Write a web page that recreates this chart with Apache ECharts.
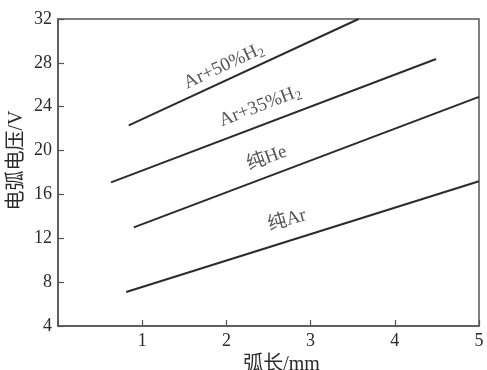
<!DOCTYPE html>
<html>
<head>
<meta charset="utf-8">
<script src="https://cdn.jsdelivr.net/npm/echarts@6/dist/echarts.min.js"></script>
<style>
  html, body { margin: 0; padding: 0; background: #fff; }
  #chart { width: 487px; height: 370px; }
</style>
</head>
<body>
<div id="chart"></div>
<script>
// Arc voltage (V) versus arc length (mm) for four shielding gases
const xTicks = [0, 1, 2, 3, 4, 5];
const yTicks = [4, 8, 12, 16, 20, 24, 28, 32];

const ar50h2 = [[0.84, 22.3], [3.57, 32.0]];
const ar35h2 = [[0.63, 17.1], [4.49, 28.35]];
const pureHe = [[0.90, 13.0], [5.0, 24.9]];
const pureAr = [[0.81, 7.1], [5.0, 17.2]];

// label anchor [x, y] and text angle for each curve
const seriesNames = ['Ar+50%H2', 'Ar+35%H2', '纯He', '纯Ar'];
const seriesData = [ar50h2, ar35h2, pureHe, pureAr];
const labelTexts = ['Ar+50%H{sub|2}', 'Ar+35%H{sub|2}', '纯He', '纯Ar'];
const labelAt = [[1.97, 27.7], [2.40, 24.05], [2.48, 19.3], [2.72, 13.64]];
const labelAngle = [25, 21, 20, 16];

const serif = '"Liberation Serif", "Times New Roman", "Noto Sans CJK SC", serif';
const ink = '#2b2b2b';

const chart = echarts.init(document.getElementById('chart'), null, { renderer: 'canvas' });

const series = seriesData.map((d, i) => ({
  name: seriesNames[i],
  type: 'line',
  data: d,
  symbol: 'none',
  silent: true,
  lineStyle: { color: ink, width: 2 }
}));

// curve names, placed in data coordinates beside each line
series.push({
  name: 'labels',
  type: 'scatter',
  silent: true,
  symbolSize: 1,
  itemStyle: { color: 'rgba(0,0,0,0)' },
  data: labelAt.map((p, i) => ({
    value: p,
    label: {
      show: true,
      position: 'inside',
      formatter: labelTexts[i],
      rotate: labelAngle[i],
      color: ink,
      fontFamily: serif,
      fontSize: 19,
      rich: {
        sub: { fontSize: 13, fontFamily: serif, color: ink, padding: [9, 0, 0, 0] }
      }
    }
  }))
});

chart.setOption({
  animation: false,
  backgroundColor: '#fff',
  grid: {
    left: 58, right: 8, top: 19, bottom: 44,
    outerBoundsMode: 'none',
    containLabel: false,
    show: true, borderColor: '#555', borderWidth: 1.5, backgroundColor: 'transparent'
  },
  xAxis: {
    type: 'value',
    min: xTicks[0],
    max: xTicks[xTicks.length - 1],
    interval: 1,
    name: '弧长/mm',
    nameLocation: 'middle',
    nameGap: 29,
    nameTextStyle: { color: ink, fontSize: 20, fontFamily: serif, padding: [0, 0, 0, 26] },
    axisLine: { show: true, lineStyle: { color: '#555', width: 1.5 } },
    axisTick: { show: true, inside: true, length: 6, lineStyle: { color: '#555', width: 1.2 } },
    axisLabel: {
      color: ink, fontSize: 18, fontFamily: serif, margin: 6,
      formatter: v => (v === 0 ? '' : String(v))
    },
    splitLine: { show: false }
  },
  yAxis: {
    type: 'value',
    min: yTicks[0],
    max: yTicks[yTicks.length - 1],
    interval: 4,
    name: '电弧电压/V',
    nameLocation: 'middle',
    nameRotate: 90,
    nameGap: 31,
    nameMoveOverlap: false,
    nameTextStyle: { color: ink, fontSize: 20, fontFamily: serif, padding: [0, 0, 0, 24] },
    axisLine: { show: true, lineStyle: { color: '#555', width: 1.5 } },
    axisTick: { show: true, inside: true, length: 6, lineStyle: { color: '#555', width: 1.2 } },
    axisLabel: { color: ink, fontSize: 18, fontFamily: serif, margin: 6 },
    splitLine: { show: false }
  },
  series: series
});
</script>
</body>
</html>
